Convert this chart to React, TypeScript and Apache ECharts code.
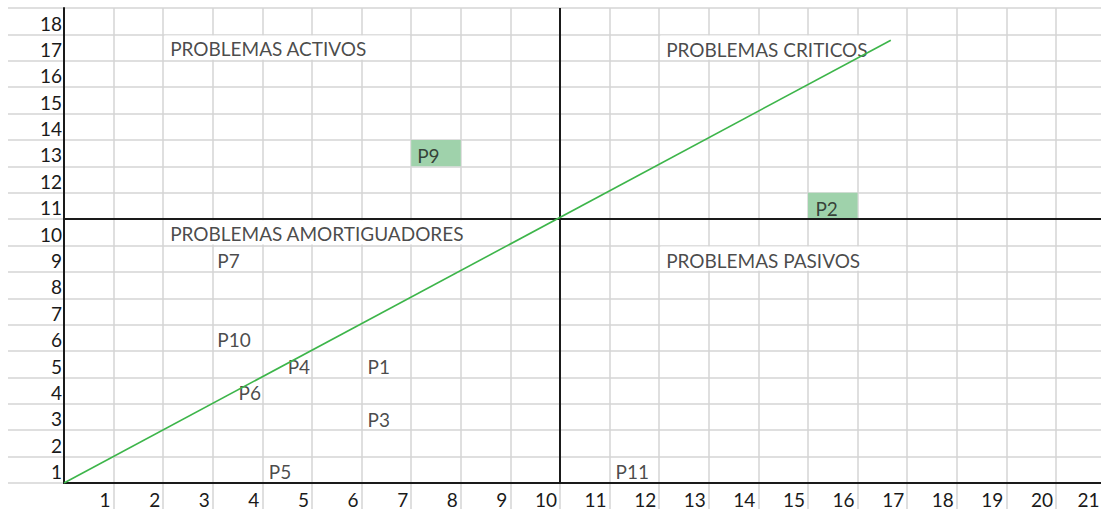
import React, { useEffect, useRef } from "react";
import * as echarts from "echarts";

// ---- data ----
const xTickLabels = ["1","2","3","4","5","6","7","8","9","10","11","12","13","14","15","16","17","18","19","20","21"];
const yTickLabels = ["1","2","3","4","5","6","7","8","9","10","11","12","13","14","15","16","17","18"];

const problemNames = ["P1", "P2", "P3", "P4", "P5", "P6", "P7", "P9", "P10", "P11"];
const problemX = [6.11, 15.14, 6.11, 4.5, 4.12, 3.51, 3.08, 7.11, 3.08, 11.11];
const problemY = [4.43, 10.42, 2.42, 4.41, 0.43, 3.42, 8.44, 12.42, 5.42, 0.43];

const quadrantNames = ["PROBLEMAS ACTIVOS", "PROBLEMAS CRITICOS", "PROBLEMAS AMORTIGUADORES", "PROBLEMAS PASIVOS"];
const quadrantX = [2.13, 12.13, 2.13, 12.13];
const quadrantY = [16.45, 16.43, 9.46, 8.44];

const splitX = 10;
const splitY = 10;

const trendX = [0, 16.67];
const trendY = [0, 16.78];

// highlighted cells: [col start, row start]
const highlightCells = [[7, 12], [15, 10]];
// cells covered by overflowing titles: [col start, col end, row start]
const overflowSpans = [[2, 7, 16], [2, 9, 9], [12, 17, 16], [12, 17, 8]];

const X_MAX = 21;
const Y_MAX = 18;

const FONT = "Lato";
const TEXT = "#1a1a1a";
const GRID = "#d4d4d4";
const AXIS = "#1a1a1a";

export default function App() {
  const ref = useRef<HTMLDivElement>(null);

  useEffect(() => {
    const chart = echarts.init(ref.current as HTMLDivElement, undefined, { renderer: "svg" });

    const left = 64;
    const top = 8;
    const unitX = 49.6;
    const plotW = X_MAX * unitX;
    const plotH = 475;

    const vColors = xTickLabels.map(() => GRID);
    vColors.unshift("rgba(0,0,0,0)");

    const option: any = {
      animation: false,
      backgroundColor: "#ffffff",
      grid: [
        { left, top, width: plotW, height: plotH, outerBoundsMode: "none", containLabel: false },
        { left: 8, top, width: 1100, height: plotH, outerBoundsMode: "none", containLabel: false },
        { left, top, width: plotW, height: 501, outerBoundsMode: "none", containLabel: false },
      ],
      xAxis: [
        {
          gridIndex: 0,
          type: "value",
          min: 0,
          max: X_MAX,
          interval: 1,
          z: 3,
          splitLine: { show: false },
          axisTick: { show: false },
          axisLine: { show: true, lineStyle: { color: AXIS, width: 2 } },
          axisLabel: {
            show: true,
            formatter: (v: number) => {
              if (v === 0) return "";
              const t = xTickLabels[v - 1] || "";
              return v === X_MAX ? "{edge|" + t + "}" : t;
            },
            rich: {
              edge: {
                fontFamily: FONT,
                fontSize: 19,
                color: TEXT,
                lineHeight: 20,
                padding: [0, 3, 0, 0],
              },
            },
            align: "right",
            verticalAlign: "top",
            lineHeight: 20,
            margin: 6,
            padding: [0, 3, 0, 0],
            fontFamily: FONT,
            fontSize: 19,
            color: TEXT,
          },
        },
        { gridIndex: 1, type: "value", min: 0, max: 1, show: false },
        {
          gridIndex: 2,
          type: "value",
          min: 0,
          max: X_MAX,
          interval: 1,
          z: 0,
          axisLine: { show: false },
          axisTick: { show: false },
          axisLabel: { show: false },
          splitLine: { show: true, lineStyle: { color: vColors, width: 1.5 } },
        },
      ],
      yAxis: [
        {
          gridIndex: 0,
          type: "value",
          min: 0,
          max: Y_MAX,
          interval: 1,
          z: 3,
          splitLine: { show: false },
          axisTick: { show: false },
          axisLine: { show: true, lineStyle: { color: AXIS, width: 2 } },
          axisLabel: {
            show: true,
            formatter: (v: number) => (v === 0 ? "" : yTickLabels[v - 1] || ""),
            align: "right",
            verticalAlign: "top",
            lineHeight: 20,
            margin: 2,
            padding: [5, 0, 0, 0],
            fontFamily: FONT,
            fontSize: 19,
            color: TEXT,
          },
        },
        {
          gridIndex: 1,
          type: "value",
          min: 0,
          max: Y_MAX,
          interval: 1,
          z: 0,
          axisLine: { show: false },
          axisTick: { show: false },
          axisLabel: { show: false },
          splitLine: { show: true, lineStyle: { color: GRID, width: 1.5 } },
        },
        { gridIndex: 2, type: "value", min: 0, max: 1, show: false },
      ],
      series: [
        {
          name: "masks",
          type: "line",
          xAxisIndex: 0,
          yAxisIndex: 0,
          data: [],
          z: 1,
          silent: true,
          markArea: {
            silent: true,
            z: 1,
            itemStyle: { color: "#ffffff" },
            label: { show: false },
            data: overflowSpans.map(([x0, x1, y0]) => [
              { xAxis: x0 + 0.025, yAxis: y0 + 0.04 },
              { xAxis: x1 - 0.025, yAxis: y0 + 1 - 0.04 },
            ]),
          },
        },
        {
          name: "cells",
          type: "line",
          xAxisIndex: 0,
          yAxisIndex: 0,
          data: [],
          z: 1,
          silent: true,
          markArea: {
            silent: true,
            z: 1,
            itemStyle: { color: "#9fd2ab" },
            label: { show: false },
            data: highlightCells.map(([x0, y0]) => [
              { xAxis: x0, yAxis: y0 },
              { xAxis: x0 + 1, yAxis: y0 + 1 },
            ]),
          },
        },
        {
          name: "quadrants",
          type: "line",
          xAxisIndex: 0,
          yAxisIndex: 0,
          data: [],
          z: 4,
          silent: true,
          markLine: {
            silent: true,
            z: 4,
            symbol: "none",
            label: { show: false },
            lineStyle: { color: AXIS, width: 2, type: "solid" },
            data: [
              [{ coord: [splitX, 0] }, { coord: [splitX, Y_MAX] }],
              [{ coord: [0, splitY] }, { coord: [X_MAX, splitY] }],
            ],
          },
        },
        {
          name: "titles",
          type: "scatter",
          xAxisIndex: 0,
          yAxisIndex: 0,
          z: 5,
          silent: true,
          symbolSize: 1,
          itemStyle: { color: "rgba(0,0,0,0)" },
          label: {
            show: true,
            position: "right",
            distance: 0,
            formatter: (p: any) => p.name,
            fontFamily: FONT,
            fontSize: 19,
            color: TEXT,
          },
          data: quadrantNames.map((n, i) => ({ name: n, value: [quadrantX[i], quadrantY[i]] })),
        },
        {
          name: "problemas",
          type: "scatter",
          xAxisIndex: 0,
          yAxisIndex: 0,
          z: 5,
          silent: true,
          symbolSize: 1,
          itemStyle: { color: "rgba(0,0,0,0)" },
          label: {
            show: true,
            position: "right",
            distance: 0,
            formatter: (p: any) => p.name,
            fontFamily: FONT,
            fontSize: 19,
            color: TEXT,
          },
          data: problemNames.map((n, i) => ({ name: n, value: [problemX[i], problemY[i]] })),
        },
        {
          name: "tendencia",
          type: "line",
          xAxisIndex: 0,
          yAxisIndex: 0,
          z: 10,
          silent: true,
          symbol: "none",
          lineStyle: { color: "#3db54a", width: 1.6 },
          data: trendX.map((x, i) => [x, trendY[i]]),
        },
      ],
    };

    chart.setOption(option);
    return () => chart.dispose();
  }, []);

  return (
    <div
      ref={ref}
      style={{ position: "fixed", left: 0, top: 0, width: 1101, height: 509, background: "#ffffff" }}
    />
  );
}
